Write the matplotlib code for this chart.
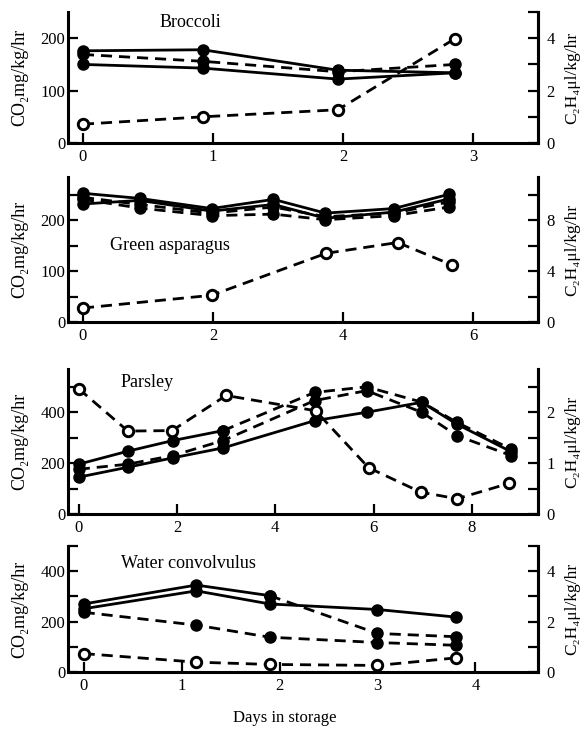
import matplotlib
matplotlib.use('Agg')
import matplotlib.pyplot as plt
from matplotlib.ticker import MultipleLocator

plt.rcParams['font.family'] = ['Liberation Serif', 'DejaVu Serif']

# Broccoli
broc_days = [0.0, 0.92, 1.96, 2.86]
broc_co2_a = [176, 178, 139, 134]
broc_co2_b = [150, 143, 122, 134]
broc_co2_c = [169, 156, 136, 150]
broc_c2h4 = [0.72, 1.0, 1.27, 3.98]

# Green asparagus
asp_days = [0.0, 0.87, 1.98, 2.93, 3.73, 4.78, 5.63]
asp_co2_a = [253, 243, 223, 241, 214, 223, 251]
asp_co2_b = [232, 239, 218, 231, 204, 216, 242]
asp_co2_c = [241, 224, 209, 212, 201, 209, 226]
asp_co2_d = [245, 231, 214, 226, 207, 214, 236]
asp_c2h4_days = [0.0, 1.98, 3.74, 4.84, 5.67]
asp_c2h4 = [1.1, 2.1, 5.4, 6.25, 4.5]

# Parsley
pars_days = [0.0, 1.0, 1.92, 2.94, 4.8, 5.86, 6.98, 7.7, 8.8]
pars_co2_a = [196, 247, 289, 328, 478, 500, 440, 360, 255]
pars_co2_b = [145, 184, 221, 260, 367, 400, 439, 353, 245]
pars_co2_c = [176, 196, 230, 289, 446, 485, 400, 308, 230]
pars_c2h4_days = [0.0, 1.0, 1.9, 3.0, 4.82, 5.9, 6.96, 7.7, 8.75]
pars_c2h4 = [2.46, 1.63, 1.64, 2.33, 2.03, 0.91, 0.43, 0.30, 0.6]

# Water convolvulus
water_days = [0.0, 1.15, 1.9, 3.0, 3.8]
water_co2_a = [270, 345, 303, 153, 140]
water_co2_b = [251, 322, 270, 248, 218]
water_co2_c = [237, 186, 138, 117, 106]
water_c2h4 = [0.73, 0.39, 0.30, 0.26, 0.56]

LW = 2.0
DASH = (4, 2.5)


def filled(ax, x, y, dashed=False):
    kw = dict(color='black', lw=LW, marker='o', ms=8, mfc='black', mec='black', zorder=3)
    if dashed:
        kw['dashes'] = DASH
    ax.plot(x, y, **kw)


def opened(ax, x, y):
    ax.plot(x, y, color='black', lw=LW, dashes=DASH, marker='o', ms=7.5,
            mfc='white', mec='black', mew=2.1, zorder=4)


def setup(rect, xlim, ylim, xmaj, ymaj, ymin, rlim, rmaj, rmin, name, name_xy):
    ax = fig.add_axes(rect)
    ax.set_xlim(*xlim)
    ax.set_ylim(*ylim)
    ax.xaxis.set_major_locator(MultipleLocator(xmaj))
    ax.yaxis.set_major_locator(MultipleLocator(ymaj))
    if ymin:
        ax.yaxis.set_minor_locator(MultipleLocator(ymin))
    ax.spines['top'].set_visible(False)
    for s in ['left', 'bottom', 'right']:
        ax.spines[s].set_linewidth(2.2)
    ax.tick_params(which='both', direction='in', width=1.6, length=7, labelsize=12)
    ax.tick_params(axis='y', pad=2)
    ax.tick_params(axis='x', pad=4)
    ax.set_ylabel('CO₂mg/kg/hr', fontsize=13)
    ax.yaxis.set_label_coords(-0.085, 0.5)
    ax.text(name_xy[0], name_xy[1], name, transform=ax.transAxes, fontsize=13,
            ha='center', va='center')

    ax2 = ax.twinx()
    ax2.set_ylim(*rlim)
    ax2.yaxis.set_major_locator(MultipleLocator(rmaj))
    ax2.yaxis.set_minor_locator(MultipleLocator(rmin))
    ax2.spines['top'].set_visible(False)
    ax2.spines['right'].set_linewidth(2.2)
    ax2.tick_params(which='both', direction='in', width=1.6, length=7, labelsize=12, pad=6)
    ax2.set_ylabel('C₂H₄μl/kg/hr', fontsize=12.5, rotation=90)
    ax2.yaxis.set_label_coords(1.055, 0.5)
    return ax, ax2


fig = plt.figure(figsize=(5.84, 7.29), dpi=100)

L, W = 0.1164, 0.805

# Broccoli
ax, ax2 = setup([L, 0.8038, W, 0.1797], (-0.115, 3.5), (0, 250), 1, 100, None,
                (0, 5), 2, 1, 'Broccoli', (0.26, 0.92))
filled(ax, broc_days, broc_co2_a)
filled(ax, broc_days, broc_co2_b)
filled(ax, broc_days, broc_co2_c, dashed=True)
opened(ax2, broc_days, broc_c2h4)

# Green asparagus
ax, ax2 = setup([L, 0.5583, W, 0.1989], (-0.23, 7.0), (0, 285), 2, 100, 50,
                (0, 11.4), 4, 2, 'Green asparagus', (0.217, 0.53))
filled(ax, asp_days, asp_co2_a)
filled(ax, asp_days, asp_co2_b)
filled(ax, asp_days, asp_co2_c, dashed=True)
filled(ax, asp_days, asp_co2_d, dashed=True)
opened(ax2, asp_c2h4_days, asp_c2h4)

# Parsley
ax, ax2 = setup([L, 0.2949, W, 0.1989], (-0.22, 9.35), (0, 570), 2, 200, 100,
                (0, 2.85), 1, 0.5, 'Parsley', (0.168, 0.91))
filled(ax, pars_days[:4], pars_co2_a[:4])
filled(ax, pars_days[3:], pars_co2_a[3:], dashed=True)
filled(ax, pars_days, pars_co2_b)
filled(ax, pars_days, pars_co2_c, dashed=True)
opened(ax2, pars_c2h4_days, pars_c2h4)

# Water convolvulus
ax, ax2 = setup([L, 0.0782, W, 0.1728], (-0.16, 4.64), (0, 500), 1, 200, 100,
                (0, 5), 2, 1, 'Water convolvulus', (0.257, 0.865))
filled(ax, water_days[:3], water_co2_a[:3])
filled(ax, water_days[2:], water_co2_a[2:], dashed=True)
filled(ax, water_days, water_co2_b)
filled(ax, water_days, water_co2_c, dashed=True)
opened(ax2, water_days, water_c2h4)

fig.text(0.488, 0.015, 'Days in storage', fontsize=12, ha='center', va='center')

fig.savefig('out.png', dpi=100)
